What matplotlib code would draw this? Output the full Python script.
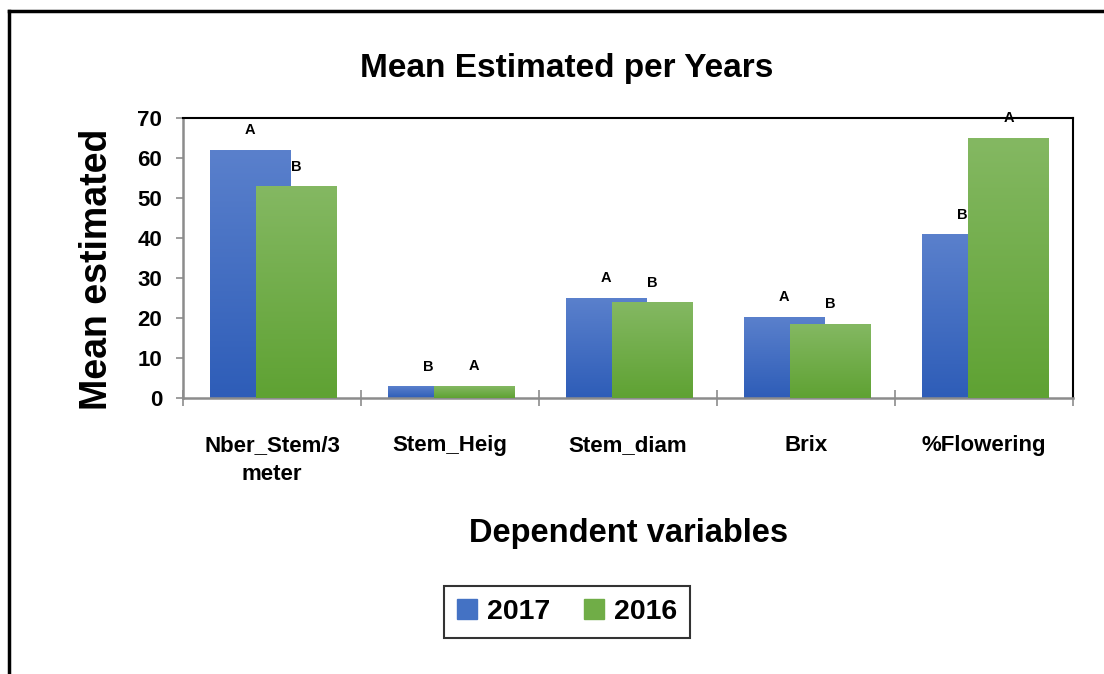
import numpy as np
import matplotlib.pyplot as plt
from matplotlib.colors import LinearSegmentedColormap
from matplotlib.lines import Line2D

# Data
categories = ['Nber_Stem/3\nmeter', 'Stem_Heig', 'Stem_diam', 'Brix', '%Flowering']
y2017 = [62, 2.8, 25, 20.2, 40.8]
y2016 = [52.8, 3, 23.8, 18.5, 65]
let2017 = ['A', 'B', 'A', 'A', 'B']
let2016 = ['B', 'A', 'B', 'B', 'A']

plt.rcParams['font.family'] = ['Liberation Sans', 'DejaVu Sans']
plt.rcParams['font.weight'] = 'bold'

fig = plt.figure(figsize=(11.04, 6.74), dpi=100)
ax = fig.add_axes([0.1658, 0.4095, 0.8062, 0.4154])

blue_cm = LinearSegmentedColormap.from_list('b', ['#2E5DB8', '#5A80CC'])
green_cm = LinearSegmentedColormap.from_list('g', ['#5FA233', '#84B862'])
grad = np.linspace(0, 1, 100).reshape(-1, 1)

x = np.arange(len(categories))
w = 0.45
off_b = -0.124
off_g = 0.137

for i in range(len(categories)):
    # blue bar (2017)
    ax.imshow(grad, cmap=blue_cm, origin='lower', aspect='auto',
              extent=[x[i] + off_b - w / 2, x[i] + off_b + w / 2, 0, y2017[i]], zorder=2)
    # green bar (2016) on top
    ax.imshow(grad, cmap=green_cm, origin='lower', aspect='auto',
              extent=[x[i] + off_g - w / 2, x[i] + off_g + w / 2, 0, y2016[i]], zorder=3)
    ax.text(x[i] + off_b, y2017[i] + 5, let2017[i], ha='center', va='center',
            fontsize=10.5, fontweight='bold', zorder=4)
    ax.text(x[i] + off_g, y2016[i] + 5, let2016[i], ha='center', va='center',
            fontsize=10.5, fontweight='bold', zorder=4)

ax.set_xlim(-0.5, len(categories) - 0.5)
ax.set_ylim(0, 70)

ax.set_yticks(range(0, 71, 10))
ax.set_xticks(x)
ax.set_xticklabels(categories, fontsize=16, fontweight='bold', linespacing=1.45)
ax.set_xticks(np.arange(-0.5, len(categories)), minor=True)
ax.tick_params(axis='x', which='major', length=0, pad=27)
ax.tick_params(axis='x', which='minor', direction='inout', length=12, color='#8c8c8c', width=1.2)
ax.tick_params(axis='y', direction='out', length=5, color='#8c8c8c', width=1.2,
               labelsize=16, pad=10)
for lab in ax.get_yticklabels():
    lab.set_fontweight('bold')

for s in ['left', 'bottom']:
    ax.spines[s].set_color('#8c8c8c')
    ax.spines[s].set_linewidth(1.8)
for s in ['top', 'right']:
    ax.spines[s].set_color('black')
    ax.spines[s].set_linewidth(1.5)

ax.set_ylabel('Mean estimated', fontsize=27, fontweight='bold')
ax.yaxis.set_label_coords(-0.076, 0.46)
ax.set_xlabel('Dependent variables', fontsize=23.5, fontweight='bold', labelpad=24)

fig.text(0.5136, 0.899, 'Mean Estimated per Years', ha='center', va='center',
         fontsize=24, fontweight='bold')

handles = [plt.Rectangle((0, 0), 1, 1, color='#4472C4'),
           plt.Rectangle((0, 0), 1, 1, color='#70AD47')]
leg = fig.legend(handles, ['2017', '2016'], loc='center', bbox_to_anchor=(0.5136, 0.092),
                 ncol=2, fontsize=20.5, frameon=True, fancybox=False, edgecolor='black',
                 handlelength=0.7, handleheight=0.7, columnspacing=1.2, handletextpad=0.35,
                 borderpad=0.45, borderaxespad=0)
leg.get_frame().set_linewidth(1.5)
for t in leg.get_texts():
    t.set_fontweight('bold')

# outer frame (left and top only)
fig.add_artist(Line2D([0.0085, 0.0085], [0, 1 - 11 / 674], color='black', lw=2.5))
fig.add_artist(Line2D([0.0085, 1], [1 - 11 / 674, 1 - 11 / 674], color='black', lw=2.5))

fig.savefig('out.png', dpi=100)
